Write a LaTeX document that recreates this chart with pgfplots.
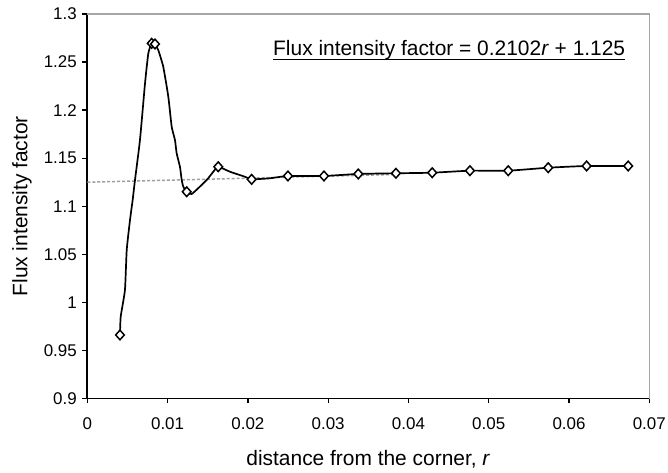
\documentclass[border=0pt]{standalone}
\usepackage{fontspec}
\setmainfont{Liberation Sans}
\usepackage{pgfplots}
\pgfplotsset{compat=1.18}
\begin{document}
\begin{tikzpicture}
\begin{axis}[
  scale only axis,
  width=562bp, height=384.5bp,
  xmin=0, xmax=0.07, ymin=0.9, ymax=1.3,
  xtick={0,0.01,...,0.07},
  ytick={0.9,0.95,1,1.05,1.1,1.15,1.2,1.25,1.3},
  scaled x ticks=false,
  xticklabel style={/pgf/number format/fixed,/pgf/number format/precision=2, yshift=-11bp},
  yticklabel style={/pgf/number format/fixed,/pgf/number format/precision=2, xshift=-2bp},
  /pgf/number format/assume math mode=true,
  axis x line*=bottom, axis y line*=left,
  axis line style={-, black, line width=1.6bp},
  tick align=outside, major tick length=5bp,
  tick style={black, line width=1.3bp},
  ticklabel style={font=\fontsize{17}{19}\selectfont},
  xlabel={distance from the corner, \textit{r}},
  ylabel={Flux intensity factor},
  every axis x label/.style={at={(rel axis cs:0.5,0)}, yshift=-66.5bp, anchor=base, inner sep=0pt, font=\fontsize{21}{24}\selectfont},
  every axis y label/.style={at={(rel axis cs:0,0.5)}, xshift=-60bp, anchor=base, rotate=90, inner sep=0pt, font=\fontsize{21}{24}\selectfont},
  clip=false,
]
\draw[gray!70, line width=1.6bp] (rel axis cs:0,1) -- (rel axis cs:1,1) -- (rel axis cs:1,0);
% linear trend line
\addplot[gray!75, densely dashed, line width=1.5bp] coordinates {(0,1.125) (0.0384,1.1331)};
% traced curve
\addplot[black, line width=1.7bp, smooth, tension=0.3] coordinates {
(0.00407,0.9661) (0.00416,0.9851) (0.00469,1.0129) (0.00491,1.0545) (0.00532,1.0857)
(0.00565,1.1065) (0.00594,1.1273) (0.00656,1.1689) (0.00719,1.2279) (0.00760,1.2591)
(0.00802,1.2695) (0.00843,1.2688) (0.00884,1.2625) (0.00946,1.2452) (0.01009,1.2140)
(0.01051,1.1828) (0.01092,1.1689) (0.01113,1.1551) (0.01154,1.1411) (0.01176,1.1273)
(0.01196,1.1203) (0.01238,1.1151) (0.01300,1.1127) (0.01487,1.1273) (0.01569,1.1359)
(0.01631,1.1411) (0.01777,1.1359) (0.01964,1.1307) (0.02047,1.1280) (0.02275,1.1291)
(0.02499,1.1315) (0.02948,1.1315) (0.03375,1.1336) (0.03844,1.1343) (0.04296,1.1349)
(0.04766,1.1370) (0.05243,1.1370) (0.05741,1.1401) (0.06219,1.1419) (0.06737,1.1419)
};
% data markers
\addplot[only marks, mark=diamond*, mark size=4.8bp, mark options={fill=white, draw=black, line width=1.5bp, xscale=1.2}] coordinates {
(0.00407,0.9661) (0.00802,1.2695) (0.00843,1.2688) (0.01238,1.1151) (0.01631,1.1411)
(0.02047,1.1280) (0.02499,1.1315) (0.02948,1.1315) (0.03375,1.1336) (0.03844,1.1343)
(0.04296,1.1349) (0.04766,1.1370) (0.05243,1.1370) (0.05741,1.1401) (0.06219,1.1419)
(0.06737,1.1419)
};
\node[anchor=base west, font=\fontsize{21}{24}\selectfont, inner sep=0pt] (eq) at (axis cs:0.02313,1.2573)
  {Flux intensity factor = 0.2102\textit{r} + 1.125};
\draw[black, line width=1.8bp] ([yshift=-4.5bp]eq.base west) -- ([yshift=-4.5bp]eq.base east);
\end{axis}
\pgfresetboundingbox
\path ([shift={(-87.3bp,-74.5bp)}]current axis.south west) rectangle ([shift={(18.7bp,14bp)}]current axis.north east);
\end{tikzpicture}
\end{document}
